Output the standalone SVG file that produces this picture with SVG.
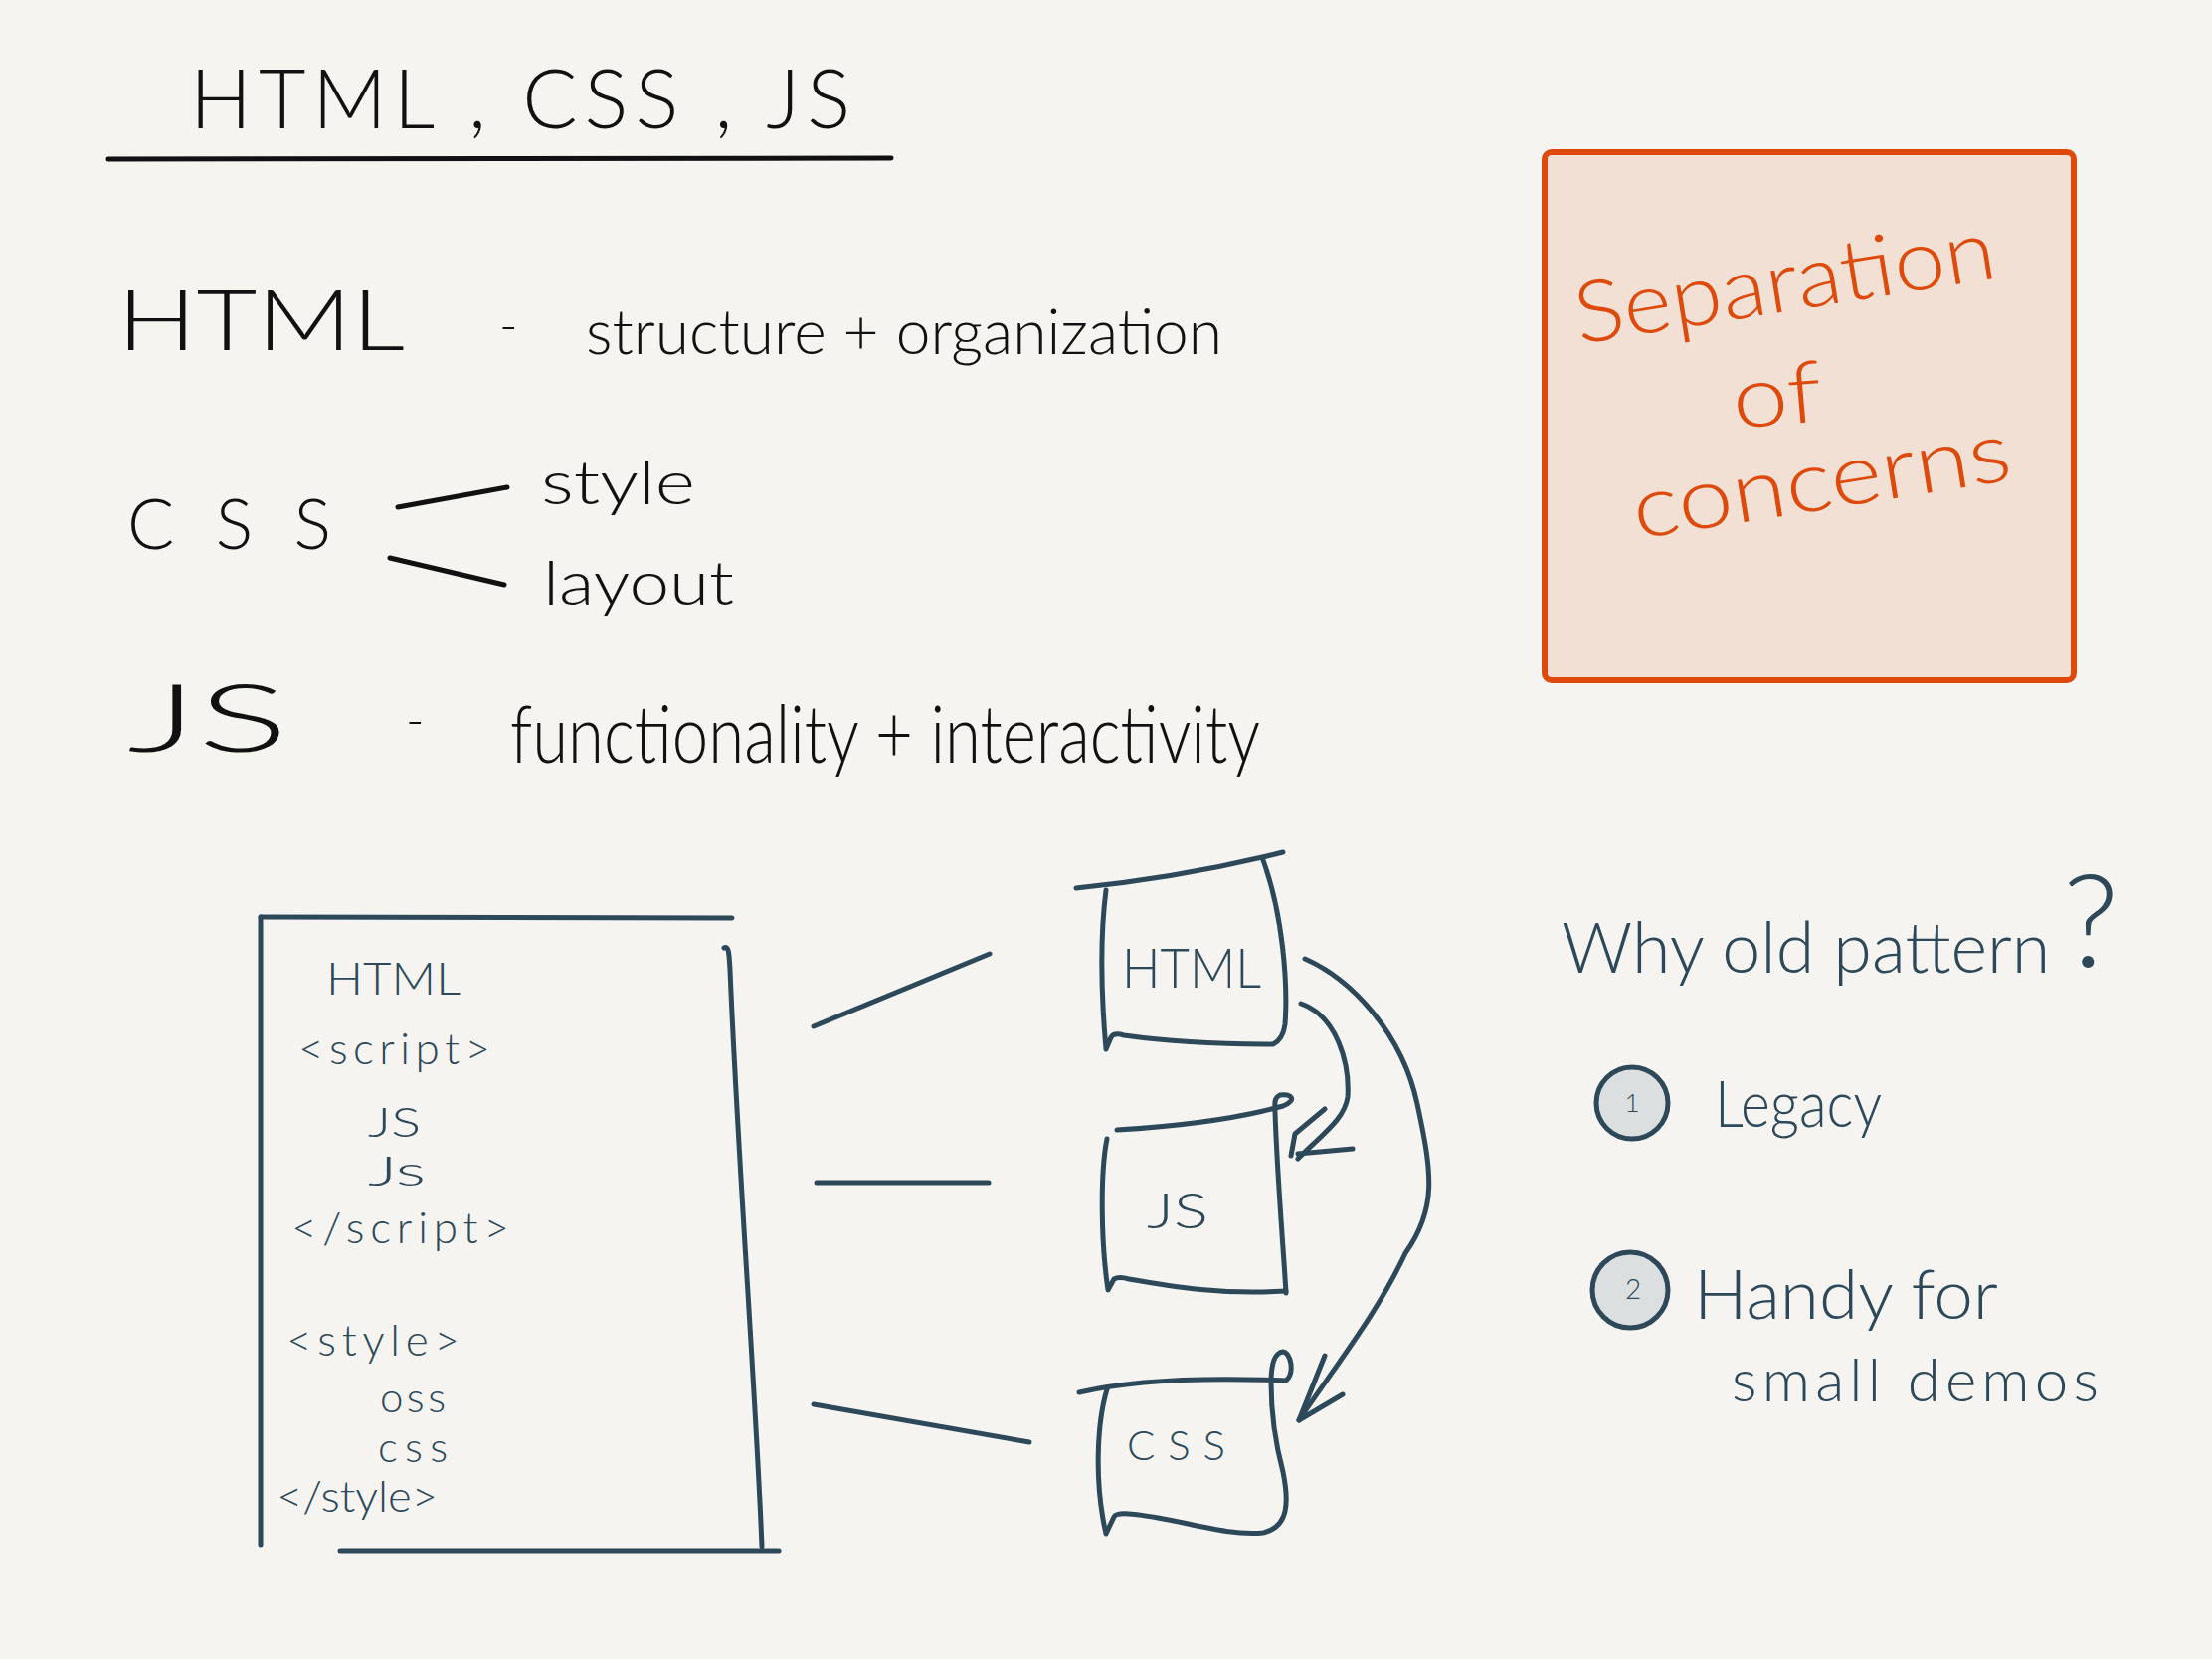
<svg xmlns="http://www.w3.org/2000/svg" width="2224" height="1668" viewBox="0 0 2224 1668">
<style>
.ink{fill:#111;font-family:Lato,"Liberation Sans",sans-serif;font-weight:300}
.slate{fill:#2d4859;font-family:Lato,"Liberation Sans",sans-serif;font-weight:300}
.orange{fill:#dd4a0c;font-family:Lato,"Liberation Sans",sans-serif;font-weight:300}
.ln{fill:none;stroke:#111;stroke-width:5;stroke-linecap:round;stroke-linejoin:round}
.sl{fill:none;stroke:#2d4859;stroke-width:5;stroke-linecap:round;stroke-linejoin:round}
</style>
<rect width="2224" height="1668" fill="#f5f4f0"/>

<g id="title">
<text class="ink" x="191" y="129" font-size="82" textLength="664" lengthAdjust="spacing">HTML , CSS , JS</text>
<path class="ln" d="M109,160 L896,159"/>
</g>

<g id="html-row">
<text class="ink" x="118" y="352" font-size="84" textLength="289" lengthAdjust="spacingAndGlyphs">HTML</text>
<text class="ink" x="502" y="345" font-size="50">-</text>
<text class="ink" x="589" y="356" font-size="64" textLength="640" lengthAdjust="spacingAndGlyphs">structure + organization</text>
</g>

<g id="css-row">
<text class="ink" x="128" y="552" font-size="70" textLength="205" lengthAdjust="spacing">CSS</text>
<text class="ink" x="544" y="507" font-size="62" textLength="155" lengthAdjust="spacingAndGlyphs">style</text>
<text class="ink" x="546" y="608" font-size="62" textLength="192" lengthAdjust="spacingAndGlyphs">layout</text>
</g>

<g id="js-row">
<text class="ink" x="128" y="756" font-size="94" textLength="162" lengthAdjust="spacingAndGlyphs">JS</text>
<text class="ink" x="408" y="742" font-size="50">-</text>
<text class="ink" x="513" y="767" font-size="80" textLength="754" lengthAdjust="spacingAndGlyphs">functionality + interactivity</text>
</g>

<g id="separation-of-concerns">
<rect x="1553" y="153" width="532" height="531" rx="7" fill="#f2e0d5" stroke="#dd4a0c" stroke-width="6"/>
<text class="orange" x="1588" y="346" font-size="86" textLength="427" lengthAdjust="spacingAndGlyphs" transform="rotate(-9 1588 346)">Separation</text>
<text class="orange" x="1744" y="431" font-size="86" textLength="90" lengthAdjust="spacingAndGlyphs" transform="rotate(-5 1744 431)">of</text>
<text class="orange" x="1646" y="542" font-size="86" textLength="384" lengthAdjust="spacingAndGlyphs" transform="rotate(-9 1646 542)">concerns</text>
</g>

<g id="html-file">
<path class="sl" d="M262,922 L736,923"/>
<path class="sl" d="M262,922 L262,1553" stroke-width="6"/>
<path class="sl" d="M342,1559 L783,1559"/>
<path class="sl" d="M728,953 C733,950 733,960 734,975 C742,1170 760,1400 766,1555"/>
<text class="slate" x="328" y="1000" font-size="46" textLength="135" lengthAdjust="spacingAndGlyphs">HTML</text>
<text class="slate" x="300" y="1070" font-size="44" textLength="193" lengthAdjust="spacing">&lt;script&gt;</text>
<text class="slate" x="370" y="1143" font-size="42" textLength="53" lengthAdjust="spacingAndGlyphs">JS</text>
<text class="slate" x="370" y="1192" font-size="42" textLength="58" lengthAdjust="spacingAndGlyphs">Js</text>
<text class="slate" x="293" y="1250" font-size="44" textLength="219" lengthAdjust="spacing">&lt;/script&gt;</text>
<text class="slate" x="288" y="1363" font-size="44" textLength="174" lengthAdjust="spacing">&lt;style&gt;</text>
<text class="slate" x="382" y="1420" font-size="42" textLength="66" lengthAdjust="spacing">oss</text>
<text class="slate" x="380" y="1470" font-size="42" textLength="70" lengthAdjust="spacing">css</text>
<text class="slate" x="278" y="1520" font-size="44" textLength="162" lengthAdjust="spacingAndGlyphs">&lt;/style&gt;</text>
</g>

<g id="html-box">
<path class="sl" d="M1082,893 Q1190,882 1290,857"/>
<path class="sl" d="M1112,895 C1105,950 1108,1010 1112,1055 L1117,1043 Q1120,1038 1130,1041 C1180,1048 1230,1050 1280,1050 Q1290,1045 1292,1030 C1295,990 1290,920 1270,865"/>
<text class="slate" x="1128" y="993" font-size="56" textLength="140" lengthAdjust="spacingAndGlyphs">HTML</text>
</g>

<g id="js-box">
<path class="sl" d="M1123,1136 C1190,1132 1250,1123 1290,1112 C1305,1106 1298,1099 1287,1101 C1280,1104 1282,1112 1282,1118 C1284,1180 1290,1250 1293,1300"/>
<path class="sl" d="M1113,1145 C1106,1180 1107,1250 1114,1297 L1120,1286 Q1125,1283 1135,1286 C1180,1294 1230,1302 1293,1298"/>
<text class="slate" x="1153" y="1235" font-size="50" textLength="62" lengthAdjust="spacingAndGlyphs">JS</text>
</g>

<g id="css-box">
<path class="sl" d="M1085,1400 C1140,1387 1220,1385 1293,1388 C1302,1380 1298,1360 1290,1359 C1280,1360 1278,1375 1278,1390 C1278,1420 1282,1450 1290,1480 C1296,1510 1296,1535 1270,1541 C1230,1545 1180,1525 1135,1522 Q1122,1521 1120,1525 L1112,1542 C1100,1490 1103,1430 1113,1397"/>
<text class="slate" x="1133" y="1468" font-size="42" textLength="99" lengthAdjust="spacing">CSS</text>
</g>

<g id="connectors">
<path class="ln" d="M400,510 L510,490"/>
<path class="ln" d="M392,561 L507,588"/>
<path class="sl" d="M818,1032 L995,959"/>
<path class="sl" d="M821,1189 L994,1189"/>
<path class="sl" d="M818,1412 L1035,1450"/>
<path class="sl" d="M1308,1009 C1345,1022 1357,1070 1355,1103 C1352,1125 1330,1140 1305,1165"/>
<path class="sl" d="M1332,1115 L1302,1140 L1298,1162 M1360,1155 L1305,1160"/>
<path class="sl" d="M1312,964 C1360,985 1410,1040 1425,1110 C1440,1180 1445,1215 1413,1260 C1385,1320 1345,1370 1306,1428"/>
<path class="sl" d="M1332,1363 L1306,1428 L1350,1402"/>
</g>

<g id="why-old-pattern">
<text class="slate" x="1570" y="978" font-size="70">Why old pattern</text>
<text class="slate" x="2074" y="972" font-size="130">?</text>
</g>

<g id="reason-1">
<circle cx="1641" cy="1109" r="36" fill="#dcdfdf" stroke="#2d4859" stroke-width="5"/>
<text class="slate" x="1641" y="1118" font-size="26" text-anchor="middle">1</text>
<text class="slate" x="1724" y="1133" font-size="66" textLength="168" lengthAdjust="spacingAndGlyphs">Legacy</text>
</g>

<g id="reason-2">
<circle cx="1639" cy="1297" r="38" fill="#dcdfdf" stroke="#2d4859" stroke-width="5"/>
<text class="slate" x="1642" y="1306" font-size="28" text-anchor="middle">2</text>
<text class="slate" x="1703" y="1326" font-size="68" textLength="306" lengthAdjust="spacingAndGlyphs">Handy for</text>
<text class="slate" x="1741" y="1409" font-size="60" textLength="369" lengthAdjust="spacing">small demos</text>
</g>
</svg>
